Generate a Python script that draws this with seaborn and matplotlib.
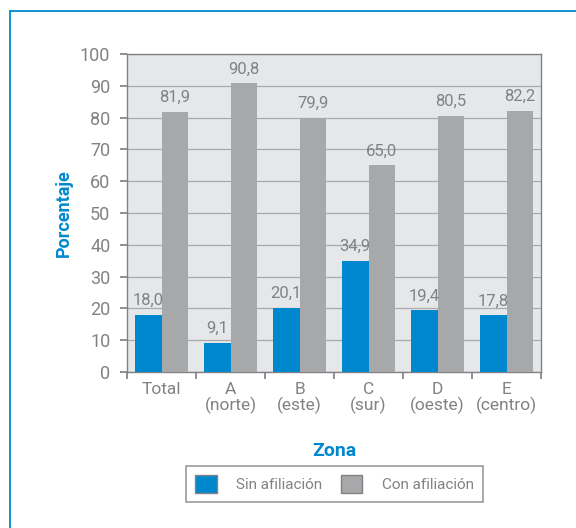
import pandas as pd
import matplotlib.pyplot as plt
import seaborn as sns
from matplotlib.lines import Line2D
from matplotlib.patches import Patch

# DATA
zonas = ['Total', 'A\n(norte)', 'B\n(este)', 'C\n(sur)', 'D\n(oeste)', 'E\n(centro)']
sin_afiliacion = [18.0, 9.1, 20.1, 34.9, 19.4, 17.8]
con_afiliacion = [81.9, 90.8, 79.9, 65.0, 80.5, 82.2]
series = ['Sin afiliación', 'Con afiliación']

df = pd.DataFrame({
    'zona': zonas * 2,
    'valor': sin_afiliacion + con_afiliacion,
    'serie': [series[0]] * len(zonas) + [series[1]] * len(zonas),
})

BLUE = '#0088ce'
GREY = '#a7a8aa'
TXT = '#808285'

sns.set_theme(style='white')
plt.rcParams['font.family'] = ['Roboto', 'DejaVu Sans']

fig = plt.figure(figsize=(5.76, 5.28), dpi=100)
ax = fig.add_axes([0.2205, 0.2955, 0.719, 0.602])
ax.set_facecolor('#e6e7e8')

sns.barplot(data=df, x='zona', y='valor', hue='serie', palette=[BLUE, GREY],
            width=0.77, gap=0, ax=ax, legend=False, saturation=1, zorder=3,
            linewidth=0)

# value labels
for cont in ax.containers:
    labels = [f'{v:.1f}'.replace('.', ',') for v in cont.datavalues]
    ax.bar_label(cont, labels=labels, padding=5, fontsize=12, color=TXT)

ax.set_ylim(0, 100)
ax.set_yticks(range(0, 101, 10))
ax.set_xlim(-0.5, len(zonas) - 0.5)
ax.yaxis.grid(True, color='#a8a9ab', linewidth=0.9, zorder=0)
ax.set_axisbelow(True)
for s in ax.spines.values():
    s.set_color('#808285')
    s.set_linewidth(1)

ax.tick_params(axis='y', which='both', left=True, length=5, color='#808285',
               labelsize=13, labelcolor=TXT, pad=7)
ax.set_xticks([i - 0.5 for i in range(len(zonas) + 1)], minor=False)
ax.set_xticklabels([])
ax.set_xticks(range(len(zonas)), minor=True)
ax.set_xticklabels(zonas, minor=True)
ax.tick_params(axis='x', which='major', bottom=True, length=5, color='#808285')
ax.tick_params(axis='x', which='minor', bottom=False, labelsize=12.5,
               labelcolor=TXT, pad=3)
for lbl in ax.get_xticklabels(minor=True):
    lbl.set_linespacing(1.0)

ax.set_xlabel('Zona', fontsize=14, fontweight='bold', color=BLUE, labelpad=20)
ax.set_ylabel('Porcentaje', fontsize=13, fontweight='bold', color=BLUE, labelpad=5)

handles = [Patch(facecolor=BLUE, edgecolor='#808285', linewidth=1),
           Patch(facecolor=GREY, edgecolor='#808285', linewidth=1)]
leg = fig.legend(handles, series, loc='center', bbox_to_anchor=(0.581, 0.083),
                 ncol=2, frameon=True, fancybox=False, fontsize=11,
                 handlelength=1.4, handleheight=1.4, columnspacing=1.2,
                 handletextpad=1.3, borderpad=0.6)
leg.get_frame().set_edgecolor('#808285')
leg.get_frame().set_linewidth(1.2)
for t in leg.get_texts():
    t.set_color(TXT)

# blue frame lines (top and left)
fig.add_artist(Line2D([10 / 576, 1], [1 - 11 / 528] * 2, color=BLUE, lw=1.3,
                      transform=fig.transFigure))
fig.add_artist(Line2D([10 / 576] * 2, [0, 1 - 11 / 528], color=BLUE, lw=1.3,
                      transform=fig.transFigure))

plt.savefig('out.png', dpi=100)
plt.close()
